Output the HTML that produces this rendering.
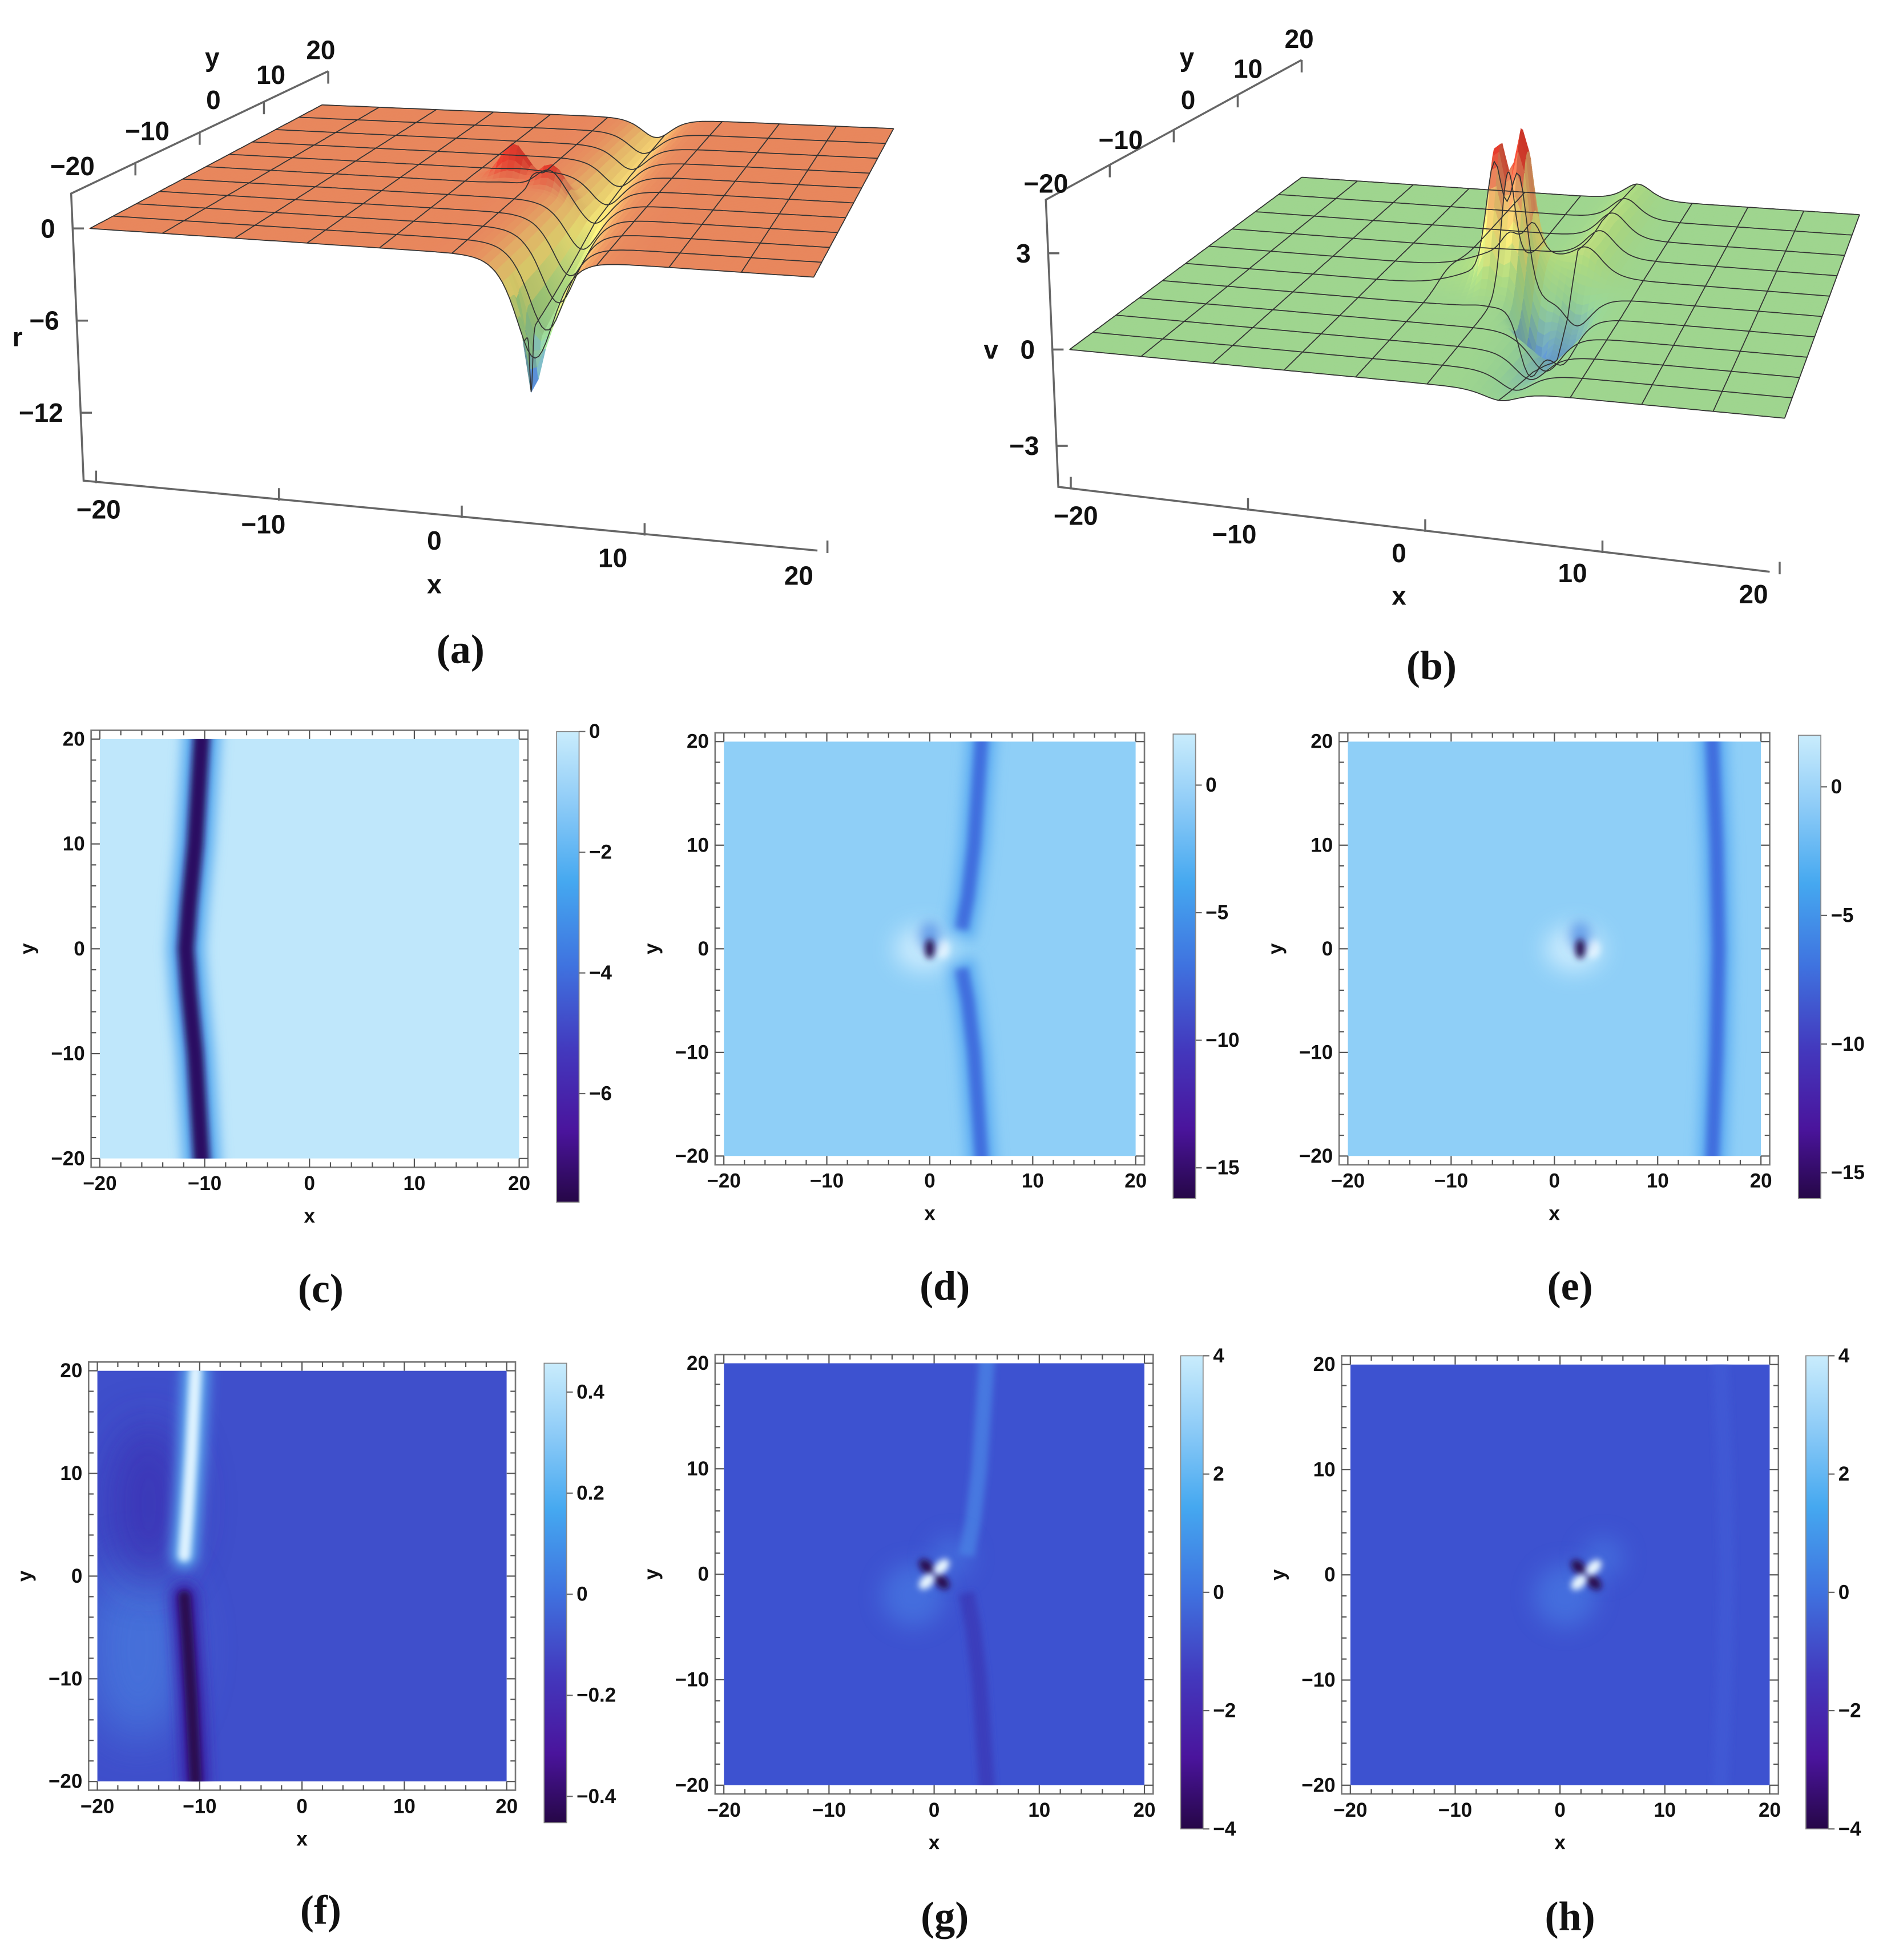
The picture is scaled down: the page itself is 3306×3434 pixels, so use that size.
<!DOCTYPE html>
<html><head><meta charset="utf-8"><style>
html,body{margin:0;padding:0;background:#fff;}
svg{display:block;}
text{font-family:"Liberation Sans Narrow","Liberation Sans",sans-serif;font-weight:bold;fill:#111;}
.cap{font-family:"Liberation Serif",serif;font-weight:bold;font-size:33px;}
</style></head><body>
<svg id="fig" width="3306" height="3434" viewBox="0 0 1512 1570" preserveAspectRatio="none" xmlns="http://www.w3.org/2000/svg">
<defs>
<filter id="b2" filterUnits="userSpaceOnUse" x="0" y="0" width="1512" height="1570"><feGaussianBlur stdDeviation="2.5"/></filter>
<filter id="b4" filterUnits="userSpaceOnUse" x="0" y="0" width="1512" height="1570"><feGaussianBlur stdDeviation="5"/></filter>
<filter id="b8" filterUnits="userSpaceOnUse" x="0" y="0" width="1512" height="1570"><feGaussianBlur stdDeviation="9"/></filter>
<filter id="b16" filterUnits="userSpaceOnUse" x="0" y="0" width="1512" height="1570"><feGaussianBlur stdDeviation="18"/></filter>
<linearGradient id="cbar" x1="0" y1="0" x2="0" y2="1">
<stop offset="0" stop-color="#c9ecfc"/><stop offset="0.15" stop-color="#8fccf7"/><stop offset="0.32" stop-color="#45a8f0"/><stop offset="0.5" stop-color="#3f72df"/><stop offset="0.68" stop-color="#4338bd"/><stop offset="0.85" stop-color="#4a149c"/><stop offset="1" stop-color="#260747"/>
</linearGradient>
</defs>
<g id="root"></g>
</svg>
<script>
// ---------- data ----------
const axisTicks = [-20, -10, 0, 10, 20];
const cbTicksC = [0, -2, -4, -6];
const cbTicksDE = [0, -5, -10, -15];
const cbTicksF = [0.4, 0.2, 0, -0.2, -0.4];
const cbTicksGH = [4, 2, 0, -2, -4];
const stripeYc = [-20, -10, -4, 0, 4, 10, 20];
const stripeXc = [-10.3, -10.9, -11.5, -11.8, -11.5, -10.9, -10.3];
const stripeYdUp = [2.5, 5, 10, 20];
const stripeXdUp = [3.2, 3.7, 4.3, 5.0];
const stripeYdDn = [-2.5, -5, -10, -20];
const stripeXdDn = [3.2, 3.7, 4.3, 5.0];
const stripeYe = [-20, -10, 0, 10, 20];
const stripeXe = [15.3, 15.7, 15.9, 15.7, 15.3];
const stripeYfUp = [2, 6, 12, 20];
const stripeXfUp = [-11.5, -11.2, -10.8, -10.4];
const stripeYfDn = [-2, -6, -12, -20];
const stripeXfDn = [-11.5, -11.2, -10.8, -10.4];
const spotD = [0, 0];
const spotE = [2.5, 0];
const spotG = [0, 0];
const spotH = [2.5, 0];
const zTicksA = [0, -6, -12];
const zTicksB = [3, 0, -3];
const valleyYa = [-20, -10, 0, 10, 20];
const valleyDepthA = [-6.5, -4.5, -2.5, -1.8, -1.5];
const peaksA = [[-1.5, 2, 2.4], [1.2, 0.5, 1.6]];
const peaksB = [[-0.6, 0.8, 4.0], [0.9, 1.2, 4.3]];
const ridgeYb = [-20, -10, -3, 0, 3, 10, 20];
const ridgeHb = [-0.3, -1.0, -1.8, -1.2, 0.8, 1.0, 0.6];

const NS = "http://www.w3.org/2000/svg";
const root = document.getElementById('root');
function el(tag, attrs, parent) {
  const e = document.createElementNS(NS, tag);
  for (const k in attrs) e.setAttribute(k, attrs[k]);
  (parent || root).appendChild(e);
  return e;
}
function txt(s, x, y, size, parent, anchor) {
  const t = el('text', {x: x, y: y, 'font-size': size, 'text-anchor': anchor || 'middle', 'dominant-baseline': 'central'}, parent);
  t.textContent = s.replace('-', '\u2212');
  return t;
}
function interp(xs, ys, v) {
  if (v <= xs[0]) return ys[0];
  for (let i = 1; i < xs.length; i++) if (v <= xs[i]) { const t = (v - xs[i-1]) / (xs[i] - xs[i-1]); return ys[i-1] + t * (ys[i] - ys[i-1]); }
  return ys[ys.length - 1];
}

// ---------- density panels ----------
function density(cfg) {
  const g = el('g', {});
  
  
  const X = v => cfg.x0 + (v + 20) / 40 * (cfg.x1 - cfg.x0);
  const Y = v => cfg.y1 + (20 - v) / 40 * (cfg.y0 - cfg.y1);
  const u = (cfg.x1 - cfg.x0) / 40;
  const clipId = 'clip-' + cfg.name;
  const cp = el('clipPath', {id: clipId}, g);
  el('rect', {x: cfg.x0, y: cfg.y1, width: cfg.x1 - cfg.x0, height: cfg.y0 - cfg.y1}, cp);
  const frame = el('rect', {x: cfg.x0 - 7, y: cfg.y1 - 7, width: cfg.x1 - cfg.x0 + 14, height: cfg.y0 - cfg.y1 + 14, fill: '#fff', stroke: '#777', 'stroke-width': 1.2}, g);
  
  
  const area = el('g', {'clip-path': 'url(#' + clipId + ')'}, g);
  const bg = el('rect', {x: cfg.x0, y: cfg.y1, width: cfg.x1 - cfg.x0, height: cfg.y0 - cfg.y1, fill: cfg.bg}, area);
  
  
  (cfg.extras || []).forEach(f => f(area, X, Y, u));
  (cfg.stripes || []).forEach(s => {
    const d = s.xs.map((xv, i) => (i ? 'L' : 'M') + X(xv).toFixed(1) + ' ' + Y(s.ys[i]).toFixed(1)).join(' ');
    if (s.halo) {
      const h = el('path', {d: d, fill: 'none', stroke: s.halo, 'stroke-width': s.w * u * 2.2, filter: 'url(#b4)', 'stroke-linecap': s.cap || 'square'}, area);
      
      
    }
    const p = el('path', {d: d, fill: 'none', stroke: s.color, 'stroke-width': s.w * u, filter: 'url(#b2)', 'stroke-linecap': s.cap || 'square'}, area);
    
    
  });
  (cfg.spots || []).forEach(f => f(area, X, Y, u));
  const tg = el('g', {stroke: '#555', 'stroke-width': 1}, g);
  for (let v = -20; v <= 20; v += 2) {
    const major = v % 10 === 0; const L = major ? 7 : 4;
    const bx = X(v), by = Y(v);
    el('line', {x1: bx, y1: cfg.y0 + 7, x2: bx, y2: cfg.y0 + 7 - L}, tg);
    el('line', {x1: bx, y1: cfg.y1 - 7, x2: bx, y2: cfg.y1 - 7 + L}, tg);
    el('line', {x1: cfg.x0 - 7, y1: by, x2: cfg.x0 - 7 + L, y2: by}, tg);
    el('line', {x1: cfg.x1 + 7, y1: by, x2: cfg.x1 + 7 - L, y2: by}, tg);
  }
  axisTicks.forEach(v => {
    const tx = txt(String(v), X(v), cfg.y0 + 20, 16, g);
    
    
    const ty = txt(String(v), cfg.x0 - 12, Y(v), 16, g, 'end');
    
    
  });
  const xl = txt('x', X(0), cfg.y0 + 46, 16, g);
  
  
  const yl = txt('y', cfg.x0 - 58, Y(0), 16, g);
  yl.setAttribute('transform', 'rotate(-90 ' + (cfg.x0 - 58) + ' ' + Y(0) + ')');
  
  
  const cb = cfg.cb;
  const bar = el('rect', {x: cb.x, y: cb.top, width: 18, height: cb.bottom - cb.top, fill: 'url(#cbar)', stroke: '#888', 'stroke-width': 0.8}, g);
  
  
  const CY = v => cb.top + (cb.vmax - v) / (cb.vmax - cb.vmin) * (cb.bottom - cb.top);
  cb.ticks.forEach(v => {
    el('line', {x1: cb.x + 18, y1: CY(v), x2: cb.x + 23, y2: CY(v), stroke: '#666', 'stroke-width': 1}, g);
    const t = txt(String(v), cb.x + 26, CY(v), 16, g, 'start');
    
    
  });
  return {X, Y};
}

function singular(sp) {
  return (a, X, Y, u) => {
    const cx = X(sp[0]), cy = Y(sp[1]);
    el('ellipse', {cx: cx - 0.6 * u, cy: cy, rx: 2.8 * u, ry: 2.2 * u, fill: '#d8f2ff', opacity: 0.8, filter: 'url(#b8)'}, a);
    el('ellipse', {cx: cx + 1.2 * u, cy: cy, rx: 0.7 * u, ry: 0.9 * u, fill: '#e6f6ff', filter: 'url(#b2)'}, a);
    el('ellipse', {cx: cx, cy: cy - 1.2 * u, rx: 1.0 * u, ry: 1.4 * u, fill: '#3f7de0', opacity: 0.7, filter: 'url(#b4)'}, a);
    const s = el('ellipse', {cx: cx, cy: cy, rx: 0.45 * u, ry: 0.95 * u, fill: '#2a0a50', filter: 'url(#b2)'}, a);
    
    
  };
}
function dipole(sp) {
  return (a, X, Y, u) => {
    const cx = X(sp[0]), cy = Y(sp[1]);
    el('ellipse', {cx: cx - 2 * u, cy: cy + 2 * u, rx: 3 * u, ry: 3 * u, fill: '#4a80e6', opacity: 0.6, filter: 'url(#b8)'}, a);
    el('ellipse', {cx: cx + 1.6 * u, cy: cy - 1.6 * u, rx: 2 * u, ry: 2 * u, fill: '#4a80e6', opacity: 0.5, filter: 'url(#b8)'}, a);
    [[-0.7, 0.7, '#2a0a50'], [0.7, -0.7, '#2a0a50'], [0.7, 0.7, '#eaf8ff'], [-0.7, -0.7, '#eaf8ff']].forEach(l => {
      const e = el('ellipse', {cx: cx + l[0] * u, cy: cy - l[1] * u, rx: 0.9 * u, ry: 0.55 * u, fill: l[2], filter: 'url(#b2)', transform: 'rotate(' + (l[0] * l[1] > 0 ? -45 : 45) + ' ' + (cx + l[0] * u) + ' ' + (cy - l[1] * u) + ')'}, a);
      
      
    });
  };
}

density({name: 'panel-c', x0: 80, x1: 416, y0: 928, y1: 592, bg: '#bfe7fb',
  stripes: [{xs: stripeXc, ys: stripeYc, color: '#2c0d62', w: 1.6, halo: '#55a8ef'}],
  cb: {x: 446, top: 586, bottom: 963, vmax: 0, vmin: -7.8, ticks: cbTicksC}});
density({name: 'panel-d', x0: 580, x1: 910, y0: 926, y1: 594, bg: '#8fcff7',
  stripes: [{xs: stripeXdUp, ys: stripeYdUp, color: '#3f6ede', w: 1.3, halo: '#5eaef2'}, {xs: stripeXdDn, ys: stripeYdDn, color: '#3f6ede', w: 1.3, halo: '#5eaef2'}],
  spots: [singular(spotD)],
  cb: {x: 940, top: 588, bottom: 960, vmax: 2, vmin: -16.2, ticks: cbTicksDE}});
density({name: 'panel-e', x0: 1080, x1: 1411, y0: 926, y1: 594, bg: '#8fcff7',
  stripes: [{xs: stripeXe, ys: stripeYe, color: '#3f6ede', w: 1.3, halo: '#5eaef2'}],
  spots: [singular(spotE)],
  cb: {x: 1441, top: 589, bottom: 960, vmax: 2, vmin: -16, ticks: cbTicksDE}});
density({name: 'panel-f', x0: 78, x1: 406, y0: 1427, y1: 1098, bg: '#3f4fcb',
  extras: [(a, X, Y, u) => {
    el('ellipse', {cx: X(-16), cy: Y(-7), rx: 5 * u, ry: 9 * u, fill: '#4a7fe0', opacity: 0.7, filter: 'url(#b16)'}, a);
    el('ellipse', {cx: X(-15), cy: Y(7), rx: 4 * u, ry: 8 * u, fill: '#3a2fb0', opacity: 0.7, filter: 'url(#b16)'}, a);
  }],
  stripes: [{xs: stripeXfUp, ys: stripeYfUp, color: '#dff3ff', w: 1.2, halo: '#5aa6ee', cap: 'round'}, {xs: stripeXfDn, ys: stripeYfDn, color: '#2a0a50', w: 1.2, halo: '#3a20a8', cap: 'round'}],
  cb: {x: 436, top: 1092, bottom: 1460, vmax: 0.457, vmin: -0.452, ticks: cbTicksF}});
density({name: 'panel-g', x0: 580, x1: 917, y0: 1430, y1: 1092, bg: '#3d52d0',
  stripes: [{xs: stripeXdUp, ys: stripeYdUp, color: '#4678e0', w: 1.5}, {xs: stripeXdDn, ys: stripeYdDn, color: '#3a3cbc', w: 1.5}],
  spots: [dipole(spotG)],
  cb: {x: 946, top: 1086, bottom: 1465, vmax: 4, vmin: -4, ticks: cbTicksGH}});
density({name: 'panel-h', x0: 1082, x1: 1418, y0: 1430, y1: 1093, bg: '#3d52d0',
  stripes: [{xs: stripeXe, ys: stripeYe, color: '#3f58d4', w: 1.5}],
  spots: [dipole(spotH)],
  cb: {x: 1447, top: 1086, bottom: 1465, vmax: 4, vmin: -4, ticks: cbTicksGH}});

// ---------- 3D surfaces ----------
function cmap(t) {
  const st = [[0, [80, 40, 170]], [0.2, [80, 130, 220]], [0.42, [150, 210, 150]], [0.55, [175, 220, 130]], [0.7, [245, 232, 120]], [0.82, [240, 190, 110]], [0.9, [232, 136, 94]], [1, [225, 60, 45]]];
  t = Math.max(0, Math.min(1, t));
  for (let i = 1; i < st.length; i++) if (t <= st[i][0]) {
    const f = (t - st[i-1][0]) / (st[i][0] - st[i-1][0]);
    return st[i-1][1].map((c, k) => c + f * (st[i][1][k] - c));
  }
  return st[st.length - 1][1];
}
function surface(cfg) {
  const g = el('g', {});
  
  
  const P = (x, y, z) => {
    const s = (x + 20) / 40, t = (y + 20) / 40;
    const c = cfg.c;
    const px = (1 - s) * (1 - t) * c.FL[0] + s * (1 - t) * c.FR[0] + (1 - s) * t * c.BL[0] + s * t * c.BR[0];
    const py = (1 - s) * (1 - t) * c.FL[1] + s * (1 - t) * c.FR[1] + (1 - s) * t * c.BL[1] + s * t * c.BR[1];
    return [px, py - z * cfg.zs * (1 - 0.18 * t)];
  };
  const N = 100, h = 40 / N;
  const Z = cfg.f;
  for (let j = N - 1; j >= 0; j--) {
    for (let i = 0; i < N; i++) {
      const x = -20 + i * h, y = -20 + j * h;
      const z00 = Z(x, y), z10 = Z(x + h, y), z11 = Z(x + h, y + h), z01 = Z(x, y + h);
      const zm = (z00 + z10 + z11 + z01) / 4;
      let col = cmap((zm - cfg.zmin) / (cfg.zmax - cfg.zmin));
      const slope = (z10 - z00) / h;
      const sh = Math.max(0.85, Math.min(1.1, 1 + slope * 0.05));
      col = col.map(c => Math.min(255, Math.round(c * sh)));
      const pts = [P(x, y, z00), P(x + h, y, z10), P(x + h, y + h, z11), P(x, y + h, z01)].map(p => p[0].toFixed(1) + ',' + p[1].toFixed(1)).join(' ');
      const c = 'rgb(' + col.join(',') + ')';
      el('polygon', {points: pts, fill: c, stroke: c, 'stroke-width': 0.6}, g);
    }
  }
  const gl = el('g', {fill: 'none', stroke: '#333', 'stroke-width': 0.8}, g);
  for (let k = 0; k <= 10; k++) {
    const v = -20 + k * 4;
    let d1 = '', d2 = '';
    for (let m = 0; m <= 200; m++) {
      const w = -20 + m * 0.2;
      const p1 = P(v, w, Z(v, w)), p2 = P(w, v, Z(w, v));
      d1 += (m ? 'L' : 'M') + p1[0].toFixed(1) + ' ' + p1[1].toFixed(1);
      d2 += (m ? 'L' : 'M') + p2[0].toFixed(1) + ' ' + p2[1].toFixed(1);
    }
    const a = el('path', {d: d1}, gl);
    
    
    const b = el('path', {d: d2}, gl);
    
    
  }
  const ax = cfg.ax;
  const ag = el('g', {stroke: '#666', 'stroke-width': 1.6, fill: 'none'}, g);
  el('polyline', {points: ax.yA[0] + ',' + ax.yA[1] + ' ' + ax.corner[0] + ',' + ax.corner[1] + ' ' + ax.bottom[0] + ',' + ax.bottom[1] + ' ' + ax.xB[0] + ',' + ax.xB[1]}, ag);
  axisTicks.forEach((v, i) => {
    const f = i / 4;
    const xp = [ax.bottom[0] + f * (ax.xB[0] - ax.bottom[0]) + 10 - 2 * f, ax.bottom[1] + f * (ax.xB[1] - ax.bottom[1]) + 2];
    el('line', {x1: xp[0], y1: xp[1], x2: xp[0], y2: xp[1] - 10}, ag);
    const tx = txt(String(v), cfg.xl[i][0], cfg.xl[i][1], 21, g);
    
    
    const yp = [ax.corner[0] + f * (ax.yA[0] - ax.corner[0]), ax.corner[1] + f * (ax.yA[1] - ax.corner[1])];
    if (i > 0) el('line', {x1: yp[0], y1: yp[1], x2: yp[0], y2: yp[1] + 10}, ag);
    const ty = txt(String(v), cfg.yl[i][0], cfg.yl[i][1], 21, g);
    
    
  });
  cfg.zTicks.forEach(v => {
    const py = P(-20, -20, v)[1];
    const fx = ax.corner[0] + (py - ax.corner[1]) / (ax.bottom[1] - ax.corner[1]) * (ax.bottom[0] - ax.corner[0]);
    el('line', {x1: fx, y1: py, x2: fx + 9, y2: py}, ag);
    const t = txt(String(v), fx - 14, py, 21, g, 'end');
    
    
  });
  const t1 = txt('x', cfg.xt[0], cfg.xt[1], 21, g);
  
  
  const t2 = txt('y', cfg.yt[0], cfg.yt[1], 21, g);
  
  
  const t3 = txt(cfg.zname, cfg.zt[0], cfg.zt[1], 21, g);
  
  
}
const sech2 = v => { const c = Math.cosh(v); return 1 / (c * c); };
surface({name: 'panel-a-surface', zname: 'r', zs: 12.3, zmin: -11, zmax: 1.2,
  c: {FL: [72, 183], FR: [652, 222], BL: [258, 84], BR: [716, 103]},
  f: (x, y) => {
    let z = interp(valleyYa, valleyDepthA, y) * sech2((x - 4 + 0.03 * y) / 1.4);
    peaksA.forEach(p => { z += p[2] * Math.exp(-((x - p[0]) ** 2 + (y - p[1]) ** 2) / 1.2); });
    z -= 4 * Math.exp(-((x - 4) ** 2 + (y + 18) ** 2) / 0.3);
    return z;
  },
  ax: {yA: [263, 57], corner: [57, 155], bottom: [67, 385], xB: [655, 441]},
  xl: [[79, 408], [211, 420], [348, 433], [491, 447], [640, 461]],
  yl: [[58, 133], [118, 105], [171, 80], [217, 60], [257, 40]],
  zTicks: zTicksA, xt: [348, 468], yt: [170, 46], zt: [14, 270]});
surface({name: 'panel-b-surface', zname: 'v', zs: 25.7, zmin: -4, zmax: 4.6,
  c: {FL: [857, 280], FR: [1430, 335], BL: [1043, 142], BR: [1490, 172]},
  f: (x, y) => {
    let z = interp(ridgeYb, ridgeHb, y) * sech2((x - 4.5 + 0.02 * Math.abs(y)) / 1.3);
    peaksB.forEach(p => { z += p[2] * Math.exp(-((x - p[0]) ** 2) / 0.5 - ((y - p[1]) ** 2) / 5); });
    z += 1.2 * Math.exp(-((x - 0.2) ** 2 + (y - 2) ** 2) / 12);
    z -= 2.2 * Math.exp(-((x - 2.5) ** 2) / 0.8 - ((y + 3) ** 2) / 6);
    return z;
  },
  ax: {yA: [1043, 48], corner: [838, 160], bottom: [848, 390], xB: [1418, 458]},
  xl: [[862, 413], [989, 428], [1121, 443], [1260, 459], [1405, 476]],
  yl: [[838, 147], [898, 112], [952, 80], [1000, 55], [1041, 31]],
  zTicks: zTicksB, xt: [1121, 477], yt: [951, 46], zt: [794, 280]});

// ---------- captions ----------
[['(a)', 369, 520], ['(b)', 1147, 533], ['(c)', 257, 1032], ['(d)', 757, 1030], ['(e)', 1258, 1030], ['(f)', 257, 1530], ['(g)', 757, 1535], ['(h)', 1258, 1535]].forEach(c => {
  const t = el('text', {x: c[1], y: c[2], 'text-anchor': 'middle', 'dominant-baseline': 'central', class: 'cap'});
  t.textContent = c[0];
  
  
});
</script>
</body></html>
